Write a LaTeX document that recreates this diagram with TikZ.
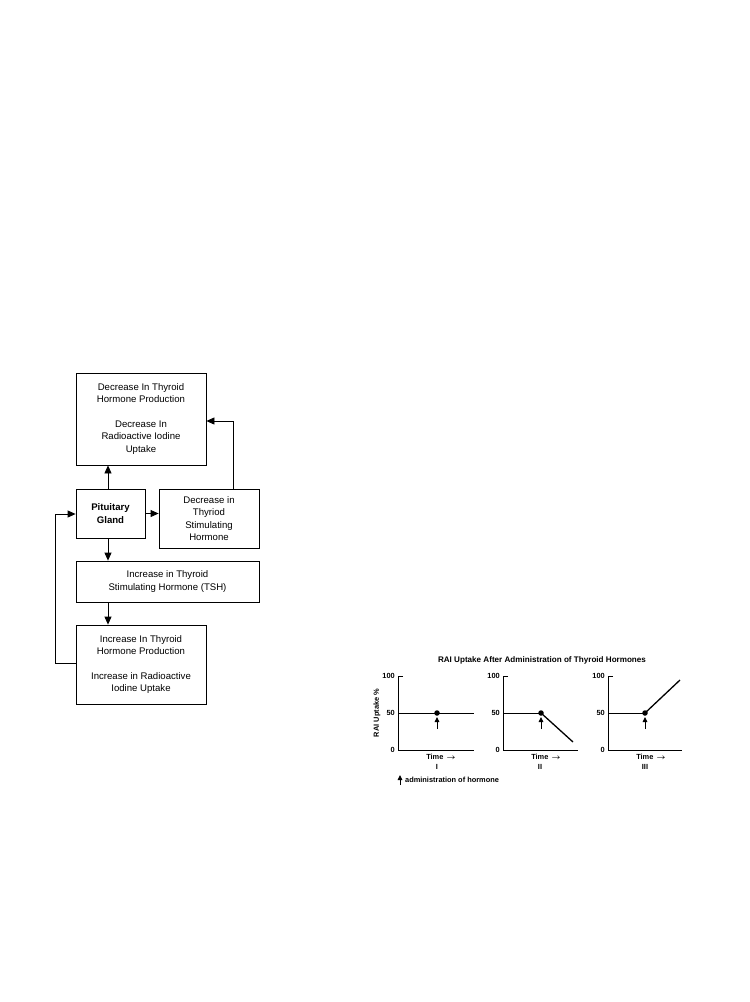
\documentclass[tikz,border=0pt]{standalone}
\usepackage{fontspec}
\setmainfont{Liberation Sans}
\usetikzlibrary{arrows.meta}
\begin{document}
\begin{tikzpicture}[x=1pt,y=-1pt,
  box/.style={draw,line width=0.8pt,align=center,inner sep=0pt,font=\fontsize{9.6}{12.5}\selectfont},
  conn/.style={line width=0.8pt},
  arr/.style={conn,-{Triangle[length=8pt,width=7pt]}},
  chartline/.style={line width=0.8pt},
  clab/.style={font=\bfseries\fontsize{7.4}{8}\selectfont,inner sep=0pt},
  small/.style={-{Triangle[length=5pt,width=4.5pt]},line width=0.9pt}]
\useasboundingbox (0,0) rectangle (750,1002);
% flowchart
\node[box,minimum width=130pt,minimum height=92pt] (dprod) at (141,419)
  {Decrease In Thyroid\\Hormone Production\\[12pt]Decrease In\\Radioactive Iodine\\Uptake};
\node[box,minimum width=69pt,minimum height=49pt,font=\bfseries\fontsize{9.6}{12.5}\selectfont] (pit) at (110.5,513.5) {Pituitary\\Gland};
\node[box,minimum width=100pt,minimum height=59pt] (dtsh) at (209,518.5) {Decrease in\\Thyriod\\Stimulating\\Hormone};
\node[box,minimum width=183pt,minimum height=41pt] (itsh) at (167.5,581.5) {Increase in Thyroid\\Stimulating Hormone (TSH)};
\node[box,minimum width=130pt,minimum height=79pt] (iprod) at (141,664.5)
  {Increase In Thyroid\\Hormone Production\\[12pt]Increase in Radioactive\\Iodine Uptake};
\coordinate (pt) at (108,0);
\draw[arr] (pit.north -| pt) -- (dprod.south -| pt);
\draw[arr] (pit.east) -- (dtsh.west |- pit.east);
\coordinate (rx) at (233,421);
\draw[arr] (dtsh.north -| rx) -- (rx) -- (dprod.east |- rx);
\draw[arr] (pit.south -| pt) -- (itsh.north -| pt);
\draw[arr] (itsh.south -| pt) -- (iprod.north -| pt);
\coordinate (lx) at (55,663);
\coordinate (ly) at (55,514);
\draw[arr] (iprod.west |- lx) -- (lx) -- (ly) -- (pit.west |- ly);
% chart
\node[clab,font=\bfseries\fontsize{8.1}{9}\selectfont] (title) at (542,660) {RAI Uptake After Administration of Thyroid Hormones};
\node[clab,rotate=90] (ylab) at (377,713) {RAI Uptake \%};
% chart I
\coordinate (a0) at (398,750);
\draw[chartline] (403,676) -- (398,676) -- (a0) -- (474,750);
\node[clab,anchor=east] (a100) at (395,676) {100};
\node[clab,anchor=east] (a50) at (395,713) {50};
\node[clab,anchor=east] (a00) at (395,750) {0};
\draw[chartline] (398,713) -- (474,713);
\node[circle,fill,inner sep=0pt,minimum size=5.5pt] (ad) at (437,713) {};
\coordinate (aa) at (437,729);
\draw[small] (aa) -- (437,717);
\node[clab] (at) at (441,757) {Time \,{\boldmath$\rightarrow$}};
\node[clab] (ai) at (437,767) {I};
% chart II
\draw[chartline] (508,676) -- (503,676) -- (503,750) -- (578,750);
\node[clab,anchor=east] (b100) at (500,676) {100};
\node[clab,anchor=east] (b50) at (500,713) {50};
\node[clab,anchor=east] (b00) at (500,750) {0};
\node[circle,fill,inner sep=0pt,minimum size=5.5pt] (bd) at (541,713) {};
\draw[chartline] (503,713) -- (bd.center);
\draw[line width=1.3pt] (bd.center) -- (573,742);
\draw[small] (541,729) -- (541,717);
\node[clab] (bt) at (546,757) {Time \,{\boldmath$\rightarrow$}};
\node[clab] (bi) at (540,767) {II};
% chart III
\draw[chartline] (613,676) -- (608,676) -- (608,750) -- (682,750);
\node[clab,anchor=east] (c100) at (605,676) {100};
\node[clab,anchor=east] (c50) at (605,713) {50};
\node[clab,anchor=east] (c00) at (605,750) {0};
\node[circle,fill,inner sep=0pt,minimum size=5.5pt] (cd) at (645,713) {};
\draw[chartline] (608,713) -- (cd.center);
\draw[line width=1.3pt] (cd.center) -- (680,680);
\draw[small] (645,729) -- (645,717);
\node[clab] (ct) at (651,757) {Time \,{\boldmath$\rightarrow$}};
\node[clab] (ci) at (645,767) {III};
% legend
\draw[small] (400,785) -- (400,775);
\node[clab,anchor=west] (leg) at (405,780) {administration of hormone};
\end{tikzpicture}
\end{document}
